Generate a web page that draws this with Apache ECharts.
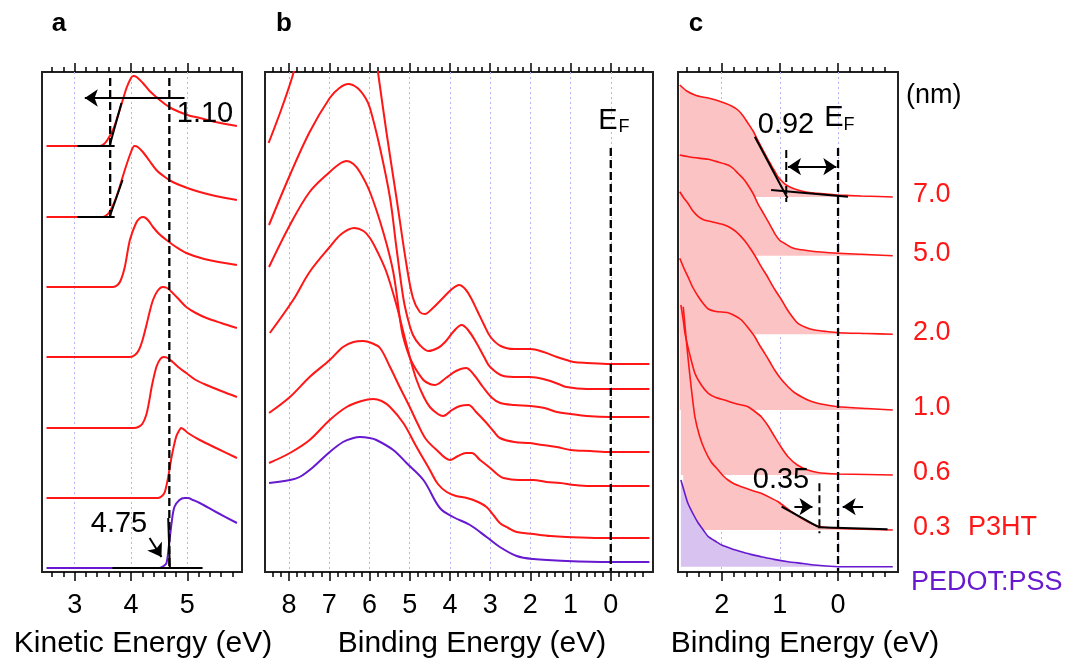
<!DOCTYPE html>
<html>
<head>
<meta charset="utf-8">
<script src="https://cdn.jsdelivr.net/npm/echarts@6.0.0/dist/echarts.min.js"></script>
<style>
html,body{margin:0;padding:0;background:#ffffff;}
#chart{width:1069px;height:661px;}
</style>
</head>
<body>
<div id="chart"></div>
<script>
// ================= DATA =================
// ---- panel a : secondary electron cut-off, x = kinetic energy (eV), y = intensity (offset, a.u.)
const kinMajorTicks = [3, 4, 5];
const secoT70 = [[2.5,426],[3.45,426],[3.52,428],[3.58,432],[3.68,442],[3.8,462],[3.92,484],[4.0,494],[4.04,496],[4.1,495],[4.21,489],[4.33,481],[4.45,475],[4.6,468],[4.74,463],[5.0,457],[5.22,454],[5.5,450],[5.88,446]];
const secoT50 = [[2.5,355],[3.5,355],[3.57,357],[3.63,361],[3.74,375],[3.89,402],[4.0,420],[4.06,426],[4.12,425],[4.21,420],[4.33,411],[4.45,402],[4.6,395],[4.74,390],[5.0,384],[5.22,380],[5.5,376],[5.88,372]];
const secoT20 = [[2.5,285],[3.68,285],[3.76,287],[3.82,292],[3.89,305],[3.98,332],[4.09,349],[4.16,354],[4.22,355],[4.3,352],[4.39,345],[4.5,338],[4.63,332],[4.8,325],[4.98,319],[5.3,313],[5.88,307]];
const secoT10 = [[2.5,215],[3.98,215],[4.07,217],[4.14,222],[4.2,231],[4.27,246],[4.33,260],[4.39,272],[4.47,281],[4.56,285],[4.64,284],[4.74,279],[4.86,272],[4.98,265],[5.15,259],[5.34,254],[5.6,249],[5.88,244]];
const secoT06 = [[2.5,144],[4.05,144],[4.13,145],[4.2,148],[4.27,157],[4.32,170],[4.37,186],[4.45,205],[4.52,213],[4.58,215],[4.65,214],[4.74,210],[4.86,204],[4.98,199],[5.15,192],[5.34,187],[5.6,181],[5.88,175]];
const secoT03 = [[2.5,74],[4.48,74],[4.55,76],[4.6,80],[4.66,95],[4.72,115],[4.8,135],[4.86,142],[4.89,144],[4.95,142],[5.01,139],[5.22,132],[5.51,124],[5.88,114]];
const secoPedot = [[2.5,4],[4.5,4],[4.58,6],[4.63,9],[4.67,25],[4.72,49],[4.77,65],[4.86,72],[4.95,74],[5.01,74],[5.1,72],[5.22,69],[5.51,60],[5.88,49]];
// annotations in panel a
const secoTan70Base = [[3.05,426],[3.71,426]];
const secoTan70Edge = [[3.62,426],[3.83,469]];
const secoTan50Base = [[3.05,355],[3.71,355]];
const secoTan50Edge = [[3.62,355],[3.85,392]];
const secoTanPedotBase = [[3.67,4],[5.27,4]];
const secoTanPedotEdge = [[4.66,54],[4.69,4]];
const secoCutLeft = [[3.63,494],[3.63,350]];
const secoCutRight = [[4.68,494],[4.68,6]];
const wfShiftArrow = [[4.95,474],[3.18,474]];
const cutoffArrow = [[4.33,34],[4.54,15]];
const wfShiftText = '1.10';
const cutoffText = '4.75';

// ---- panel b : valence band, x = binding energy (eV)
const bindMajorTicksB = [8, 7, 6, 5, 4, 3, 2, 1, 0];
const vbT70 = [[8.51,429],[8.2,462],[7.93,494],[7.6,540],[7.2,585],[6.8,610],[6.5,615],[6.2,595],[5.95,545],[5.77,494],[5.58,440],[5.33,374],[5.08,307],[4.92,274],[4.75,260],[4.62,258],[4.45,263],[4.2,273],[3.95,283],[3.77,287],[3.6,282],[3.45,272],[3.33,262],[3.15,247],[2.99,235],[2.74,226],[2.4,223],[2.0,223],[1.67,220],[1.34,215],[1.1,212],[0.93,210],[0.6,209],[0,208],[-0.96,208]];
const vbT50 = [[8.5,347],[7.98,397],[7.49,440],[6.99,474],[6.75,484],[6.53,488],[6.3,484],[6.1,474],[5.99,464],[5.74,424],[5.49,374],[5.33,324],[5.16,274],[5.04,252],[4.92,237],[4.75,227],[4.54,221],[4.3,224],[4.12,230],[3.9,241],[3.71,247],[3.55,242],[3.34,229],[3.15,215],[3.0,205],[2.67,196],[2.3,195],[2.01,195],[1.59,192],[1.3,188],[1.1,185],[0.6,183],[0,183],[-0.96,183]];
const vbT20 = [[8.5,305],[7.98,347],[7.49,380],[6.99,400],[6.75,408],[6.57,411],[6.4,408],[6.24,400],[5.99,380],[5.66,340],[5.41,300],[5.2,242],[5.05,220],[4.91,207],[4.66,192],[4.5,188],[4.37,187],[4.1,194],[3.85,201],[3.6,204],[3.4,197],[3.18,185],[2.95,174],[2.75,169],[2.4,167],[2.0,166],[1.65,164],[1.34,160],[1.0,158],[0.6,156],[0,155],[-0.96,155]];
const vbT10 = [[8.48,239],[7.9,272],[7.49,300],[6.99,325],[6.7,338],[6.38,344],[6.15,341],[5.99,334],[5.8,320],[5.58,300],[5.33,267],[5.16,240],[5.0,215],[4.83,192],[4.65,175],[4.5,165],[4.3,158],[4.17,156],[3.95,162],[3.75,166],[3.54,167],[3.35,160],[3.09,149],[2.9,140],[2.76,134],[2.4,130],[2.01,129],[1.7,127],[1.34,125],[1.0,122],[0.51,121],[0,120],[-0.96,120]];
const vbT06 = [[8.5,159],[7.98,175],[7.49,195],[6.99,212],[6.66,225],[6.4,230],[6.16,231],[5.95,229],[5.74,224],[5.49,205],[5.25,185],[5.0,165],[4.8,148],[4.6,133],[4.33,122],[4.0,112],[3.8,116],[3.6,119],[3.46,119],[3.25,112],[3.0,104],[2.8,97],[2.67,94],[2.3,92],[1.93,92],[1.6,90],[1.26,89],[0.9,87],[0.52,86],[0,86],[-0.96,86]];
const vbT03 = [[8.5,109],[7.98,119],[7.49,132],[6.99,152],[6.57,165],[6.2,171],[5.91,173],[5.7,171],[5.49,165],[5.16,149],[4.83,125],[4.5,102],[4.3,88],[4.08,80],[3.85,76],[3.58,74],[3.3,70],[3.09,65],[2.9,56],[2.76,49],[2.55,44],[2.34,40],[1.93,38],[1.5,36],[1.1,35],[0.27,34],[-0.96,34]];
const vbPedot = [[8.5,89],[7.98,92],[7.74,95],[7.4,105],[6.99,120],[6.66,130],[6.4,134],[6.24,135],[6.0,134],[5.83,132],[5.41,122],[5.08,109],[4.66,92],[4.25,64],[3.92,55],[3.5,47],[3.09,35],[2.76,25],[2.34,16],[1.93,13],[1.1,11],[0,10],[-0.96,10]];
const vbFermi = [[0,424],[0,1]];

// ---- panel c : near-Fermi region, x = binding energy (eV)
const bindMajorTicksC = [2, 1, 0];
const thicknessLabels = ['7.0', '5.0', '2.0', '1.0', '0.6', '0.3'];
const nearT70 = [[2.72,487],[2.6,481],[2.46,477],[2.33,475],[2.23,474],[2.1,472],[1.95,469],[1.83,466],[1.72,462],[1.63,456],[1.55,449],[1.46,441],[1.38,432],[1.29,422],[1.2,412],[1.11,403],[1.03,395],[0.95,390],[0.89,387],[0.79,384],[0.69,382],[0.55,380],[0.4,379],[0.2,378],[0,377],[-0.2,376.5],[-0.4,376],[-0.7,375.5],[-0.94,375]];
const nearT50 = [[2.72,417],[2.52,414.7],[2.23,412.7],[2.06,410],[1.89,407],[1.8,403.5],[1.72,398.7],[1.63,393.5],[1.55,387],[1.46,378.5],[1.38,368.7],[1.29,359.5],[1.2,350.3],[1.09,338.7],[1.0,331.5],[0.92,328.7],[0.8,324.5],[0.69,322.7],[0.5,321.3],[0.35,320.3],[0,318.7],[-0.4,317.7],[-0.94,316.3]];
const nearT20 = [[2.72,380.3],[2.65,374],[2.58,368.7],[2.5,361.5],[2.4,355.3],[2.3,352],[2.17,350.3],[2.05,348.5],[1.95,347],[1.83,343.5],[1.72,338.7],[1.6,331],[1.49,322],[1.4,313.5],[1.32,305.3],[1.23,297],[1.15,288.7],[1.06,280],[0.97,272],[0.9,265],[0.83,258.7],[0.75,252.5],[0.69,248.7],[0.55,244.5],[0.4,242],[0.2,240.5],[0,239.3],[-0.5,238.5],[-0.94,237.7]];
const nearT10 = [[2.72,313.7],[2.65,304],[2.58,295.3],[2.5,285],[2.4,275.3],[2.31,268],[2.23,263],[2.1,260.5],[1.89,259.3],[1.78,256.5],[1.66,252],[1.55,244.5],[1.43,235.3],[1.35,227],[1.26,218.7],[1.17,210],[1.09,202],[0.98,193],[0.86,185.3],[0.75,179.5],[0.63,175.3],[0.5,171.5],[0.35,168.7],[0.15,166.5],[0,165.3],[-0.5,163.5],[-0.94,162]];
const nearT06 = [[2.7,267],[2.66,252],[2.63,238.7],[2.55,218],[2.46,198.7],[2.35,187],[2.23,178.7],[2.1,174.5],[1.95,172],[1.78,168.7],[1.66,167],[1.55,165.3],[1.44,161],[1.32,155.3],[1.2,146],[1.09,135.3],[0.98,125],[0.86,115.3],[0.7,107],[0.52,102],[0.35,99.5],[0.23,98.7],[0,98],[-0.5,97.5],[-0.94,97]];
const nearT03 = [[2.66,265.3],[2.62,240],[2.58,215.3],[2.52,183],[2.46,155.3],[2.38,136],[2.29,122],[2.18,110],[2.06,102],[1.97,96],[1.89,92],[1.78,88],[1.66,85.3],[1.5,82],[1.32,78.7],[1.18,74.8],[1.03,70.3],[0.92,65.5],[0.8,60.3],[0.66,55],[0.52,50.3],[0.4,47],[0.29,45.3],[0.1,44],[-0.3,43],[-0.94,42]];
const nearPedot = [[2.7,92],[2.64,80],[2.58,68.7],[2.49,58],[2.4,48.7],[2.31,41.5],[2.23,35.3],[2.1,30.5],[2.0,27],[1.83,23.3],[1.66,20.3],[1.5,17.6],[1.32,15.3],[1.1,12.6],[0.86,10.3],[0.6,8.5],[0.4,7],[0,5.3],[-0.5,5.3],[-0.94,5.3]];
// annotations in panel c
const nearTan70Edge = [[1.43,435.3],[0.87,374]];
const nearTan70Base = [[1.15,382],[-0.17,375.3]];
const nearTan03Edge = [[0.97,65.3],[0.35,45.3]];
const nearTan03Base = [[0.35,44.7],[-0.85,42.7]];
const nearFermi = [[0,424],[0,1]];
const onset70Mark = [[0.89,422],[0.89,370]];
const onset03Mark = [[0.32,88.7],[0.32,38.7]];
const onset70Arrow = [[0.86,405.3],[0.03,405.3]];
const onset03ArrowIn = [[0.75,65.3],[0.44,65.3]];
const onset03ArrowOut = [[-0.43,65.3],[-0.08,65.3]];
const onset70Text = '0.92';
const onset03Text = '0.35';

// ================= STYLE =================
const RED = '#ff1616', PURPLE = '#6619cf', PINK = '#fbc3c3', LAVENDER = '#d7c2f0', GRIDC = '#b3b3f5';
const FONT = '"Liberation Sans", Arial, Helvetica, sans-serif';

function minorTicks(a, b, step) {
  const out = [];
  for (let k = Math.round(a / step); k <= Math.round(b / step); k++) {
    const v = +(k * step).toFixed(3);
    if (Math.abs(v - Math.round(v)) > 1e-6) out.push(v);
  }
  return out;
}

function axesFor(gi, min, max, inverse, major, minor) {
  const tickStyle = {color: '#000', width: 1.5};
  const base = {type: 'value', gridIndex: gi, min: min, max: max, inverse: inverse,
    axisLine: {show: false}, splitLine: {show: false}, axisLabel: {show: false}, axisPointer: {show: false}};
  return [
    Object.assign({}, base, {position: 'bottom',
      axisTick: {show: true, customValues: major, length: 9, lineStyle: tickStyle},
      axisLabel: {show: true, customValues: major, margin: 20, fontSize: 27, color: '#000', fontFamily: FONT,
        formatter: function (v) { return String(Math.round(v)); }},
      splitLine: {show: true, lineStyle: {color: GRIDC, type: [2, 3], width: 1}}}),
    Object.assign({}, base, {position: 'bottom', axisTick: {show: true, customValues: minor, length: 5, lineStyle: tickStyle}}),
    Object.assign({}, base, {position: 'top', axisTick: {show: true, customValues: major, length: 9, lineStyle: tickStyle}}),
    Object.assign({}, base, {position: 'top', axisTick: {show: true, customValues: minor, length: 5, lineStyle: tickStyle}})
  ];
}

function curve(data, xi, yi, color, width, smooth) {
  return {type: 'line', xAxisIndex: xi, yAxisIndex: yi, data: data, symbol: 'none', showSymbol: false,
    smooth: smooth, silent: true, animation: false, clip: true, z: 3,
    lineStyle: {color: color, width: width}};
}
function fill(data, xi, yi, color, smooth) {
  const base = Math.min.apply(null, data.map(function (p) { return p[1]; }));
  return {type: 'line', xAxisIndex: xi, yAxisIndex: yi, data: data, symbol: 'none', showSymbol: false,
    smooth: smooth, silent: true, animation: false, clip: true, z: 2,
    lineStyle: {width: 0, opacity: 0}, areaStyle: {color: color, opacity: 1, origin: base}};
}
function straight(data, xi, yi, dashed, width) {
  return {type: 'line', xAxisIndex: xi, yAxisIndex: yi, data: data, symbol: 'none', showSymbol: false,
    smooth: false, silent: true, animation: false, clip: false, z: 4,
    lineStyle: {color: '#000', width: width || 2, type: dashed ? [8, 4] : 'solid'}};
}
function arrowLines(list) {
  return {silent: true, animation: false, symbol: ['none', 'arrow'], symbolSize: 13,
    lineStyle: {color: '#000', width: 2, type: 'solid'}, label: {show: false}, emphasis: {disabled: true},
    data: list.map(function (a) {
      return [{coord: a.seg[0], symbol: a.both ? 'arrow' : 'none'}, {coord: a.seg[1], symbol: 'arrow'}];
    })};
}

// ================= OPTION =================
const xAxes = [].concat(
  axesFor(0, 2.42, 5.97, false, kinMajorTicks, minorTicks(2.6, 5.8, 0.2)),
  axesFor(1, -1.05, 8.6, true, bindMajorTicksB, minorTicks(-0.8, 8.4, 0.2)),
  axesFor(2, -1.03, 2.75, true, bindMajorTicksC, minorTicks(-0.8, 2.6, 0.2))
);
const yAxes = [0, 1, 2].map(function (gi) {
  return {type: 'value', gridIndex: gi, min: 0, max: 500, show: false, splitLine: {show: false}};
});

const series = [];
// panel a
[secoT70, secoT50, secoT20, secoT10, secoT06, secoT03].forEach(function (d) { series.push(curve(d, 0, 0, RED, 2, 0.3)); });
series.push(curve(secoPedot, 0, 0, PURPLE, 2, 0.3));
const aTan = straight(secoTan70Base, 0, 0, false, 2);
aTan.markLine = arrowLines([{seg: wfShiftArrow}, {seg: cutoffArrow}]);
series.push(aTan);
[secoTan70Edge, secoTan50Base, secoTan50Edge, secoTanPedotBase, secoTanPedotEdge].forEach(function (d) { series.push(straight(d, 0, 0, false, 2)); });
series.push(straight(secoCutLeft, 0, 0, true, 2.3));
series.push(straight(secoCutRight, 0, 0, true, 2.3));
// panel b
[vbT70, vbT50, vbT20, vbT10, vbT06, vbT03].forEach(function (d) { series.push(curve(d, 4, 1, RED, 2, 0.35)); });
series.push(curve(vbPedot, 4, 1, PURPLE, 2, 0.35));
series.push(straight(vbFermi, 4, 1, true, 2.3));
// panel c
const nearRed = [nearT70, nearT50, nearT20, nearT10, nearT06, nearT03];
nearRed.forEach(function (d) { series.push(fill(d, 8, 2, PINK, 0.2)); });
series.push(fill(nearPedot, 8, 2, LAVENDER, 0.2));
nearRed.forEach(function (d) { series.push(curve(d, 8, 2, RED, 1.6, 0.2)); });
series.push(curve(nearPedot, 8, 2, PURPLE, 1.6, 0.2));
const cTan = straight(nearTan70Edge, 8, 2, false, 2);
cTan.markLine = arrowLines([{seg: onset70Arrow, both: true}, {seg: onset03ArrowIn}, {seg: onset03ArrowOut}]);
series.push(cTan);
[nearTan70Base, nearTan03Edge, nearTan03Base].forEach(function (d) { series.push(straight(d, 8, 2, false, 2)); });
series.push(straight(nearFermi, 8, 2, true, 2.3));
series.push(straight(onset70Mark, 8, 2, true, 2));
series.push(straight(onset03Mark, 8, 2, true, 2));

const option = {
  backgroundColor: '#ffffff',
  animation: false,
  grid: [
    {left: 42, top: 72, width: 200, height: 500, show: true, borderColor: '#222', borderWidth: 2, backgroundColor: 'transparent'},
    {left: 265, top: 72, width: 388, height: 500, show: true, borderColor: '#222', borderWidth: 2, backgroundColor: 'transparent'},
    {left: 678, top: 72, width: 220, height: 500, show: true, borderColor: '#222', borderWidth: 2, backgroundColor: 'transparent'}
  ],
  xAxis: xAxes,
  yAxis: yAxes,
  series: series
};

const chart = echarts.init(document.getElementById('chart'), null, {renderer: 'canvas'});
chart.setOption(option);

// ================= TEXT =================
function txt(x, y, text, size, color, align, weight) {
  return {type: 'text', x: x, y: y, z: 100, silent: true,
    style: {text: text, fill: color || '#000', font: (weight || 'normal') + ' ' + size + 'px ' + FONT,
      textAlign: align || 'center', align: align || 'center', textVerticalAlign: 'middle', verticalAlign: 'middle'}};
}
const texts = [
  txt(59, 24, 'a', 26, '#000', 'center', 'bold'),
  txt(284, 24, 'b', 26, '#000', 'center', 'bold'),
  txt(696, 24, 'c', 26, '#000', 'center', 'bold'),
  txt(143, 644, 'Kinetic Energy (eV)', 30),
  txt(472, 644, 'Binding Energy (eV)', 30),
  txt(805, 644, 'Binding Energy (eV)', 30),
  txt(205, 114, wfShiftText, 29),
  txt(119, 524, cutoffText, 29),
  txt(608, 121, 'E', 29),
  txt(624, 127, 'F', 18),
  txt(834, 118, 'E', 29),
  txt(849, 125, 'F', 18),
  txt(786, 125, onset70Text, 29),
  txt(781, 480, onset03Text, 29),
  txt(906, 96, '(nm)', 27, '#000', 'left')
];
nearRed.forEach(function (d, i) {
  const p = chart.convertToPixel({xAxisIndex: 8, yAxisIndex: 2}, d[d.length - 1]);
  texts.push(txt(913, p[1] - 2, thicknessLabels[i], 27, RED, 'left'));
  if (i === nearRed.length - 1) texts.push(txt(968, p[1] - 2, 'P3HT', 27, RED, 'left'));
});
(function () {
  const p = chart.convertToPixel({xAxisIndex: 8, yAxisIndex: 2}, nearPedot[nearPedot.length - 1]);
  texts.push(txt(911, p[1] + 16, 'PEDOT:PSS', 27, PURPLE, 'left'));
})();
chart.setOption({graphic: {elements: texts}});
</script>
</body>
</html>
